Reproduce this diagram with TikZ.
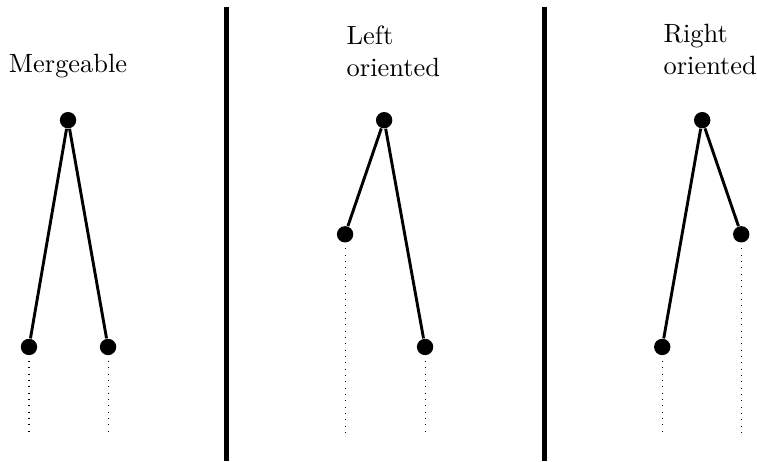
\documentclass[tikz,border=0pt]{standalone}
\usepackage{xcolor}
\usepackage{tikz}
\usetikzlibrary{positioning}

\begin{document}
\begin{tikzpicture}[x=1cm, y=1cm,
    dot/.style={circle, fill=black, inner sep=0pt, minimum size=6.2pt},
    branch/.style={line width=1.1pt},
    trail/.style={dotted, line width=0.4pt, shorten <=2pt},
    divider/.style={line width=1.8pt}]

    \useasboundingbox (0,0) rectangle (10.08,6.14);

    % Mergeable
    \node[anchor=base] at (0.906,5.18) (lblM) {Mergeable};
    \node[dot] at (0.906,4.54) (mTop) {};
    \node[dot] at (0.386,1.52) (mLeft) {};
    \node[dot] at (1.439,1.52) (mRight) {};
    \draw[branch] (mTop) -- (mLeft);
    \draw[branch] (mTop) -- (mRight);
    \coordinate (mLeftEnd) at (0.386,0.37);
    \coordinate (mRightEnd) at (1.439,0.37);
    \draw[trail] (mLeft) -- (mLeftEnd);
    \draw[trail] (mRight) -- (mRightEnd);

    % First divider
    \coordinate (d1Top) at (3.02,6.05);
    \coordinate (d1Bot) at (3.02,0);
    \draw[divider] (d1Top) -- (d1Bot);

    % Left oriented
    \node[anchor=north west, align=left, inner sep=0pt] at (4.61,5.80) (lblL) {Left\\oriented};
    \node[dot] at (5.115,4.54) (lTop) {};
    \node[dot] at (4.595,3.02) (lLeft) {};
    \node[dot] at (5.66,1.52) (lRight) {};
    \draw[branch] (lTop) -- (lLeft);
    \draw[branch] (lTop) -- (lRight);
    \coordinate (lLeftEnd) at (4.595,0.37);
    \coordinate (lRightEnd) at (5.66,0.37);
    \draw[trail] (lLeft) -- (lLeftEnd);
    \draw[trail] (lRight) -- (lRightEnd);

    % Second divider
    \coordinate (d2Top) at (7.246,6.05);
    \coordinate (d2Bot) at (7.246,0);
    \draw[divider] (d2Top) -- (d2Bot);

    % Right oriented
    \node[anchor=north west, align=left, inner sep=0pt] at (8.83,5.82) (lblR) {Right\\oriented};
    \node[dot] at (9.35,4.54) (rTop) {};
    \node[dot] at (8.818,1.52) (rLeft) {};
    \node[dot] at (9.87,3.02) (rRight) {};
    \draw[branch] (rTop) -- (rLeft);
    \draw[branch] (rTop) -- (rRight);
    \coordinate (rLeftEnd) at (8.818,0.37);
    \coordinate (rRightEnd) at (9.87,0.37);
    \draw[trail] (rLeft) -- (rLeftEnd);
    \draw[trail] (rRight) -- (rRightEnd);

\end{tikzpicture}
\end{document}
